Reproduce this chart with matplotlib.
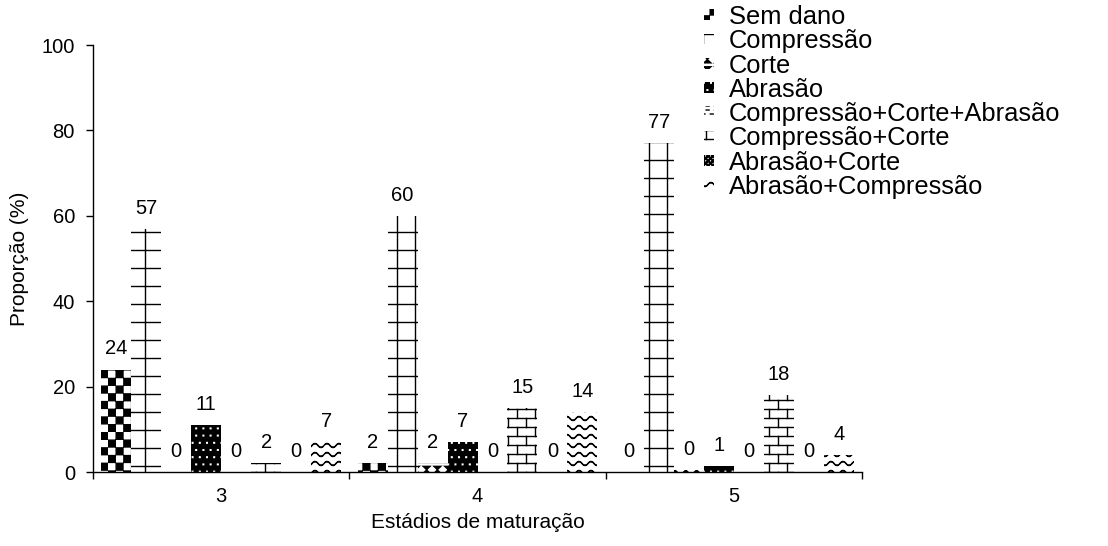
import warnings
warnings.filterwarnings("ignore")
import numpy as np
import matplotlib
matplotlib.use("Agg")
import matplotlib.pyplot as plt
import matplotlib.hatch as mhatch
from matplotlib.path import Path

# ---------------- data ----------------
stages = ["3", "4", "5"]
series = ["Sem dano", "Compressão", "Corte", "Abrasão",
          "Compressão+Corte+Abrasão", "Compressão+Corte",
          "Abrasão+Corte", "Abrasão+Compressão"]
sem_dano = [24, 2, 0]
compressao = [57, 60, 77]
corte = [0, 2, 0.4]
abrasao = [11, 7, 1.3]
comp_corte_abr = [0, 0, 0]
comp_corte = [2, 15, 18]
abr_corte = [0, 0, 0]
abr_comp = [7, 14, 4]

# ---------------- custom tiled fill patterns (Excel-like) ----------------
M, L, C = Path.MOVETO, Path.LINETO, Path.CLOSEPOLY


def _rect(v, c, x0, y0, x1, y1):
    v += [(x0, y0), (x1, y0), (x1, y1), (x0, y1), (x0, y0)]
    c += [M, L, L, L, C]


def _poly(v, c, pts):
    v += list(pts) + [pts[0]]
    c += [M] + [L] * (len(pts) - 1) + [C]


def _seg(v, c, x0, y0, x1, y1):
    v += [(x0, y0), (x1, y1)]
    c += [M, L]


def _checker(n, e):
    v, c = [], []
    s = 1.0 / n
    for i in range(n):
        for j in range(n):
            if (i + j) % 2 == 0:
                _rect(v, c, i * s + e, j * s + e, (i + 1) * s - e, (j + 1) * s - e)
    return v, c


def _grid(n, off):
    v, c = [], []
    for k in range(n):
        p = k / n + off
        _seg(v, c, p, 0, p, 1)
        _seg(v, c, 0, p, 1, p)
    return v, c


def _hourglass(n):
    v, c = [], []
    t = 1.0 / n
    for i in range(n):
        for j in range(n):
            cx, cy = (i + 0.5) * t, (j + 0.5) * t
            a = 0.32 * t
            _poly(v, c, [(cx - a, cy + a), (cx + a, cy + a), (cx, cy + 0.02 * t)])
            _poly(v, c, [(cx - a, cy - a), (cx + a, cy - a), (cx, cy - 0.02 * t)])
    return v, c


def _dots(n):
    v, c = [], []
    d = 0.003
    for j in range(n):
        for i in range(n):
            x0 = (i + 0.25 + 0.5 * (j % 2)) / n
            y0 = (j + 0.5) / n
            _rect(v, c, x0 - d, y0 - d, x0 + d, y0 + d)
    return v, c


def _dashes(rows, cols):
    v, c = [], []
    for j in range(rows):
        y0 = (j + 0.5) / rows
        for i in range(cols):
            x0 = (i + 0.5 * (j % 2)) / cols
            _seg(v, c, x0, y0, x0 + 0.35 / cols, y0)
    return v, c


def _brick(rows, cols):
    v, c = [], []
    h = 1.0 / rows
    for j in range(rows):
        y = (j + 0.5) * h
        _seg(v, c, 0, y, 1, y)
        for i in range(cols):
            x0 = (i + 0.25 + 0.5 * (j % 2)) / cols
            if j < rows - 1:
                _seg(v, c, x0, y, x0, y + h)
            else:
                _seg(v, c, x0, y, x0, 1.0)
                _seg(v, c, x0, 0.0, x0, 0.5 * h)
    return v, c


def _waves(rows, periods):
    v, c = [], []
    xs = np.linspace(0, 1, periods * 8 + 1)
    for j in range(rows):
        y0 = (j + 0.5) / rows
        ys = y0 + 0.018 * np.sin(2 * np.pi * periods * xs)
        for k in range(len(xs) - 1):
            _seg(v, c, xs[k], ys[k], xs[k + 1], ys[k + 1])
    return v, c


DPI = 108  # one hatch tile = DPI pixels
_PATTERNS = {
    "C": _checker(14, 0.004),
    "G": _grid(6, 1.5 / DPI),
    "K": _hourglass(10),
    "D": _dots(15),
    "E": _dashes(27, 13),
    "B": _brick(12, 6),
    "A": _checker(44, 0.001),
    "W": _waves(12, 9),
}


class _TileHatch(mhatch.HatchPatternBase):
    def __init__(self, hatch, density):
        verts, codes = [], []
        for ch, (v, c) in _PATTERNS.items():
            if ch in hatch:
                verts += v
                codes += c
        self._v = np.array(verts, float).reshape(-1, 2)
        self._c = np.array(codes, dtype=Path.code_type)
        self.num_vertices = len(self._v)

    def set_vertices_and_codes(self, vertices, codes):
        vertices[:] = self._v
        codes[:] = self._c


mhatch._hatch_types.append(_TileHatch)

# ---------------- figure ----------------
K = 100.0 / DPI  # sizes below were tuned in points at 100 dpi
plt.rcParams['font.family'] = ['Liberation Sans', 'DejaVu Sans']
plt.rcParams['hatch.linewidth'] = 1.0 * K

W, H = 1108, 546
fig = plt.figure(figsize=(W / DPI + 1e-4, H / DPI + 1e-4), dpi=DPI)
ax = fig.add_axes([93 / W, 1 - 472 / H, (862 - 93) / W, (472 - 45) / H])

x = np.arange(len(stages))
bw = 30 / 256.5
values = [sem_dano, compressao, corte, abrasao, comp_corte_abr,
          comp_corte, abr_corte, abr_comp]
hatches = ['C', 'G', 'K', 'D', 'E', 'B', 'A', 'W']
faces = ['white', 'white', 'white', 'black', 'white', 'white', 'white', 'white']
hcols = ['black', 'black', 'black', 'white', 'black', 'black', 'black', 'black']

for i, (name, vals) in enumerate(zip(series, values)):
    bars = ax.bar(x + (i - 3.5) * bw, vals, width=bw, facecolor=faces[i],
                  edgecolor=hcols[i], linewidth=0, hatch=hatches[i], label=name)
    ax.bar_label(bars, labels=[f"{v:.0f}" for v in vals], padding=8 * K,
                 fontsize=14.5 * K)

ax.set_xlim(-0.5, 2.5)
ax.set_ylim(0, 100)
ax.set_xticks([-0.5, 0.5, 1.5, 2.5])
ax.set_xticklabels([])
ax.set_xticks(x, minor=True)
ax.set_xticklabels(stages, minor=True)
ax.tick_params(axis='x', which='major', direction='out', length=5 * K,
               width=1 * K)
ax.tick_params(axis='x', which='minor', length=0, pad=11 * K,
               labelsize=14.5 * K)
ax.set_yticks(np.arange(0, 101, 20))
ax.tick_params(axis='y', direction='out', length=5 * K, width=1 * K,
               pad=8 * K, labelsize=14.5 * K)
for s in ['top', 'right']:
    ax.spines[s].set_visible(False)
for s in ['left', 'bottom']:
    ax.spines[s].set_linewidth(1 * K)

ax.set_xlabel("Estádios de maturação", fontsize=15 * K)
ax.set_ylabel("Proporção (%)", fontsize=15 * K)
ax.xaxis.set_label_coords(0.5, -0.097)
ax.yaxis.set_label_coords(-0.083, 0.5)

fig.legend(loc='upper left', bbox_to_anchor=(704 / W, 1 - 5 / H),
           frameon=False, fontsize=18.4 * K, handlelength=0.39,
           handleheight=0.26, handletextpad=0.58, labelspacing=0.01,
           borderpad=0, borderaxespad=0)

fig.savefig("out.png", dpi=DPI)
